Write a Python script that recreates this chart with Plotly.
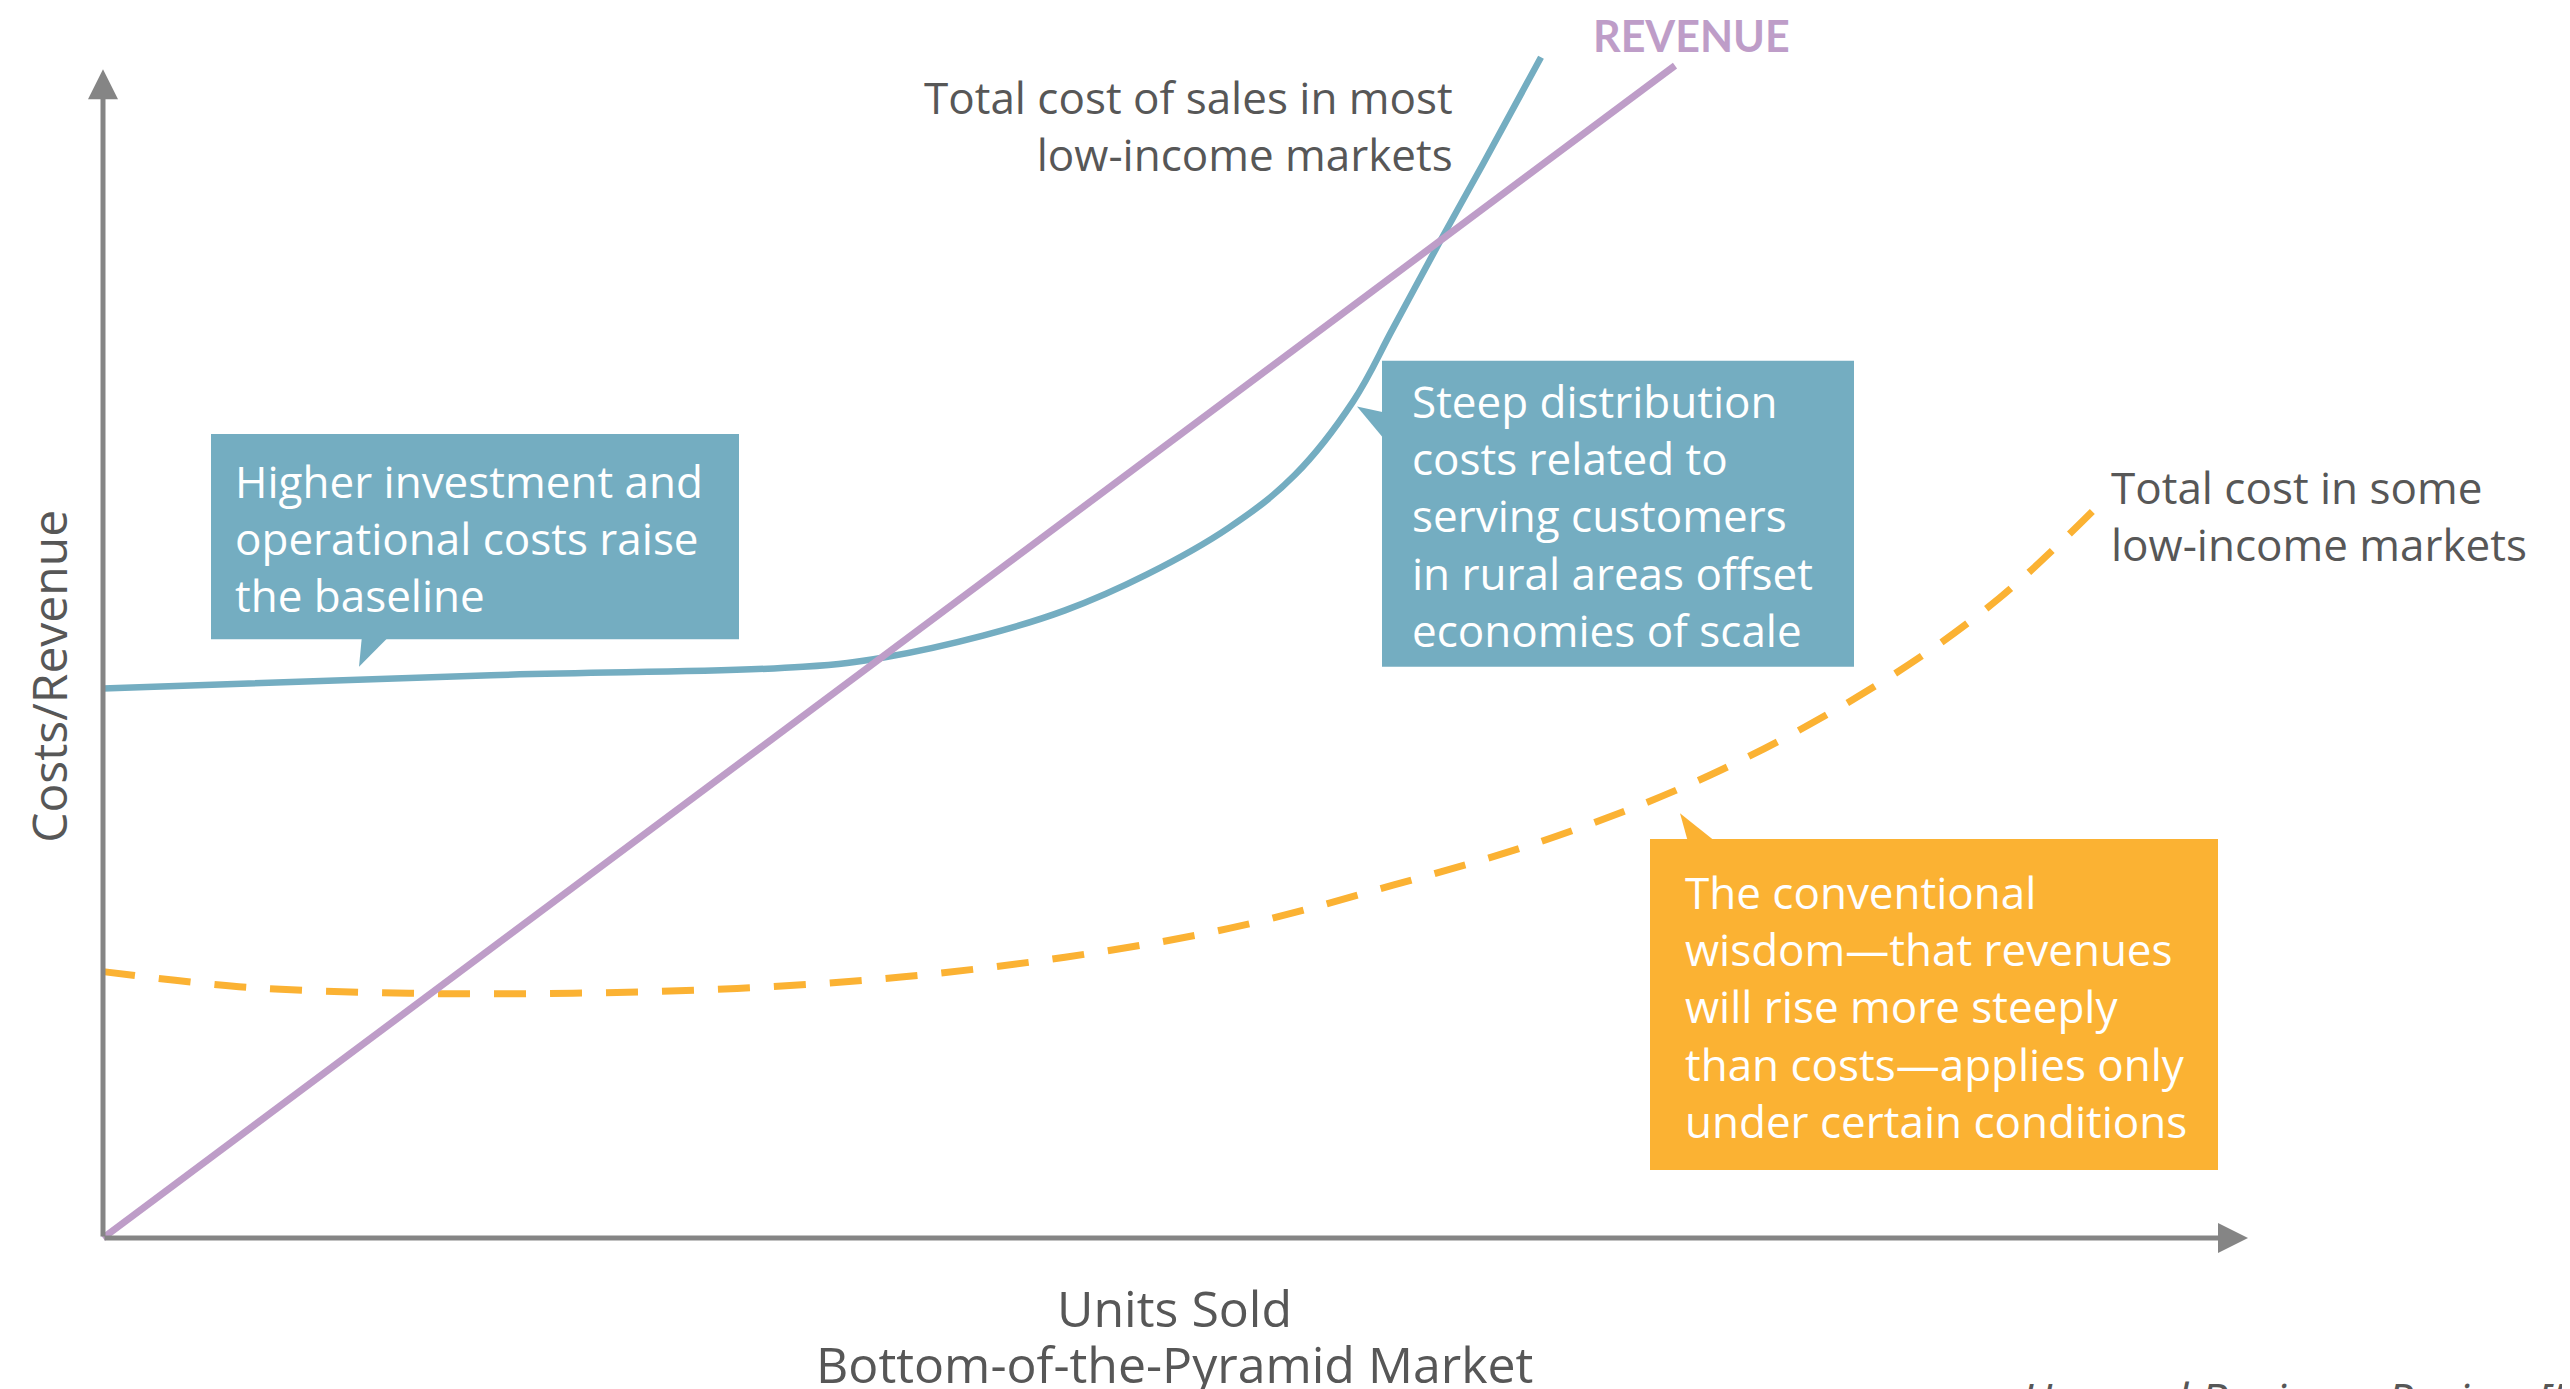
import plotly.graph_objects as go

# values, arbitrary units (units sold vs costs/revenue)
revenue_x = [0, 78.6]
revenue_y = [0, 97.7]

cost_most_x = [0, 19.4, 35.0, 39.1, 44.0, 48.1, 52.2, 56.3, 59.6, 62.5, 64.5, 66.8, 69.0, 71.9]
cost_most_y = [45.8, 46.9, 47.6, 48.4, 50.2, 52.3, 55.3, 59.2, 63.6, 69.7, 75.8, 82.9, 89.5, 98.4]

cost_some_x = [0, 7.2, 15.3, 23.5, 31.7, 39.9, 48.1, 56.3, 64.5, 72.7, 80.9, 89.1, 94.8, 99.5]
cost_some_y = [22.2, 20.9, 20.4, 20.4, 20.8, 21.75, 23.4, 25.8, 29.4, 33.5, 39.0, 46.5, 53.3, 60.6]

callout_texts = [
    "Higher investment and<br>operational costs raise<br>the baseline",
    "Steep distribution<br>costs related to<br>serving customers<br>in rural areas offset<br>economies of scale",
    "The conventional<br>wisdom\u2014that revenues<br>will rise more steeply<br>than costs\u2014applies only<br>under certain conditions",
]

BLUE = "#74ADC1"
PURPLE = "#BE9DC8"
ORANGE = "#FBB233"
AXIS = "#858585"
TEXT = "#575757"
FONT = "Open Sans"

fig = go.Figure()

fig.add_trace(go.Scatter(x=cost_most_x, y=cost_most_y, mode="lines",
                         line=dict(color=BLUE, width=6.5, shape="spline", smoothing=1.1),
                         hoverinfo="skip"))
fig.add_trace(go.Scatter(x=cost_some_x, y=cost_some_y, mode="lines",
                         line=dict(color=ORANGE, width=7, shape="spline", dash="32px,24px"),
                         hoverinfo="skip"))
fig.add_trace(go.Scatter(x=revenue_x, y=revenue_y, mode="lines",
                         line=dict(color=PURPLE, width=7),
                         hoverinfo="skip"))

# axis arrows
for tip_x, tip_y in [(0, 97.4), (107.25, 0)]:
    fig.add_annotation(x=tip_x, y=tip_y, ax=0, ay=0, axref="x", ayref="y",
                       showarrow=True, arrowhead=2, arrowsize=1.2, arrowwidth=5,
                       arrowcolor=AXIS, text="")

# callout boxes: rect (x0, x1, y0, y1), text anchor (x, y), pointer triangle, colour
callouts = [
    ((5.4, 31.8, 49.9, 67.0), (6.5, 58.3),
     [(12.95, 50.2), (14.35, 50.2), (12.8, 47.6)], BLUE),
    ((63.95, 87.55, 47.6, 73.1), (65.35, 60.2),
     [(64.2, 68.75), (64.2, 66.3), (62.7, 69.3)], BLUE),
    ((77.35, 105.75, 5.67, 33.25), (79.0, 19.33),
     [(79.25, 33.0), (80.65, 33.0), (78.85, 35.4)], ORANGE),
]
for ((x0, x1, y0, y1), (tx, ty), pts, col), txt in zip(callouts, callout_texts):
    fig.add_shape(type="rect", x0=x0, x1=x1, y0=y0, y1=y1, xref="x", yref="y",
                  fillcolor=col, line=dict(width=0), layer="above")
    path = "M " + " L ".join(f"{px},{py}" for px, py in pts) + " Z"
    fig.add_shape(type="path", path=path, xref="x", yref="y",
                  fillcolor=col, line=dict(width=0), layer="above")
    fig.add_annotation(x=tx, y=ty, xanchor="left", yanchor="middle", text=txt,
                       showarrow=False, align="left",
                       font=dict(family=FONT, size=44, color="white"))

# labels
fig.add_annotation(x=79.4, y=100.2, text="<b>REVENUE</b>", showarrow=False,
                   font=dict(family="Lato", size=43, color=PURPLE))
fig.add_annotation(x=67.6, y=92.7, xanchor="right", align="right", showarrow=False,
                   text="Total cost of sales in most<br>low-income markets",
                   font=dict(family=FONT, size=44, color=TEXT))
fig.add_annotation(x=100.3, y=60.2, xanchor="left", align="left", showarrow=False,
                   text="Total cost in some<br>low-income markets",
                   font=dict(family=FONT, size=44, color=TEXT))

# axis titles and source, placed relative to the plot area
fig.add_annotation(x=-0.0057, y=0.469, xref="paper", yref="paper",
                   xanchor="center", yanchor="middle",
                   textangle=-90, showarrow=False, text="Costs/Revenue",
                   font=dict(family=FONT, size=48, color=TEXT))
fig.add_annotation(x=0.4557, y=-0.0369, xref="paper", yref="paper",
                   xanchor="center", yanchor="middle", showarrow=False,
                   text="Units Sold", font=dict(family=FONT, size=50, color=TEXT))
fig.add_annotation(x=0.4557, y=-0.0817, xref="paper", yref="paper",
                   xanchor="center", yanchor="middle", showarrow=False,
                   text="Bottom-of-the-Pyramid Market",
                   font=dict(family=FONT, size=50, color=TEXT))
fig.add_annotation(x=0.8016, y=-0.0833, xref="paper", yref="paper",
                   xanchor="left", yanchor="top", showarrow=False,
                   text="<i>Harvard Business Review [5]</i>",
                   font=dict(family=FONT, size=46, color=TEXT))

# page body adds an 8px offset, so the figure is drawn 8px smaller
fig.update_layout(width=2562, height=1381, showlegend=False,
                  margin=dict(l=55, r=67, t=6, b=127),
                  paper_bgcolor="white", plot_bgcolor="white",
                  xaxis=dict(range=[-2, 120], visible=False),
                  yaxis=dict(range=[-2, 102], visible=False))

fig.write_html("out.html")
